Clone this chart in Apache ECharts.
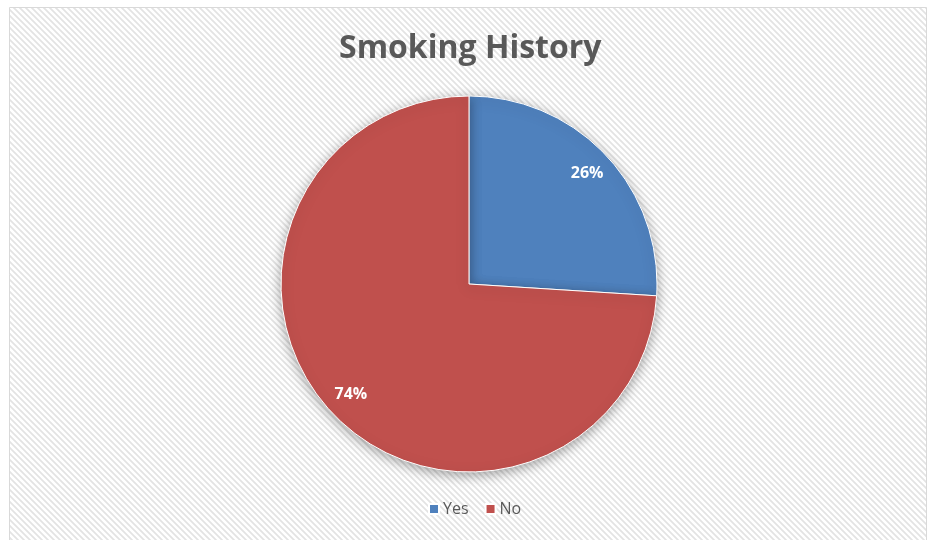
<!DOCTYPE html>
<html><head><meta charset="utf-8">
<script src="https://cdn.jsdelivr.net/npm/echarts@6/dist/echarts.min.js"></script>
<style>html,body{margin:0;padding:0;background:#fff}#c{width:929px;height:540px}</style>
</head><body><div id="c"></div>
<script>
const titleText = 'Smoking History';
const categories = ['Yes', 'No'];
const values = [26, 74];
const colors = ['#4F81BD', '#C0504D'];

// hatch pattern
const pc = document.createElement('canvas');
pc.width = 6; pc.height = 6;
const g = pc.getContext('2d');
g.fillStyle = '#ffffff'; g.fillRect(0,0,6,6);
g.strokeStyle = '#e3e3e3'; g.lineWidth = 1.7;
g.beginPath();
g.moveTo(-1,-1); g.lineTo(7,7);
g.moveTo(-4,2); g.lineTo(4,10);
g.moveTo(2,-4); g.lineTo(10,4);
g.stroke();

const chart = echarts.init(document.getElementById('c'), null, {renderer:'canvas'});
const data = categories.map((n,i)=>({name:n, value:values[i], itemStyle:{color:colors[i]}}));
chart.setOption({
  backgroundColor: '#ffffff',
  animation: false,
  graphic: [{
    type:'rect', z:-10, silent:true,
    shape:{x:9.5, y:7.5, width:917, height:540},
    style:{fill:{image: pc, repeat:'repeat'}, stroke:'#d9d9d9', lineWidth:1}
  }],
  title: {
    text: titleText, left: 334, top: 28,
    textStyle: {fontFamily:'Open Sans', fontWeight:'bold', fontSize:32, color:'#595959'}
  },
  legend: {
    data: categories.map((n,i)=>({name:n, itemStyle:{color:colors[i]}})),
    bottom: 18, left: 423, icon: 'rect',
    itemWidth: 10, itemHeight: 10, itemGap: 16,
    textStyle: {fontFamily:'Open Sans', fontSize:16, color:'#595959', padding:[0,0,0,-1]}
  },
  series: [{
    type: 'pie', center: [469, 284], radius: 188,
    startAngle: 90, clockwise: true,
    data: data,
    label: {show:false}, labelLine:{show:false},
    itemStyle: {borderColor:'#ffffff', borderWidth:1, shadowBlur:12, shadowColor:'rgba(0,0,0,0.35)', shadowOffsetY:3},
    emphasis: {disabled:true}
  }, {
    type: 'pie', center: [469, 284], radius: [138, 180],
    startAngle: 90, clockwise: true, silent: true, z: 5,
    data: categories.map((n,i)=>({name:n, value:values[i], itemStyle:{color:'rgba(0,0,0,0)'}})),
    label: {show:true, position:'inside', formatter: p => p.value + '%',
      fontFamily:'Open Sans', fontWeight:'bold', fontSize:16, color:'#ffffff'},
    labelLine:{show:false},
    emphasis: {disabled:true}
  }]
});
</script></body></html>
